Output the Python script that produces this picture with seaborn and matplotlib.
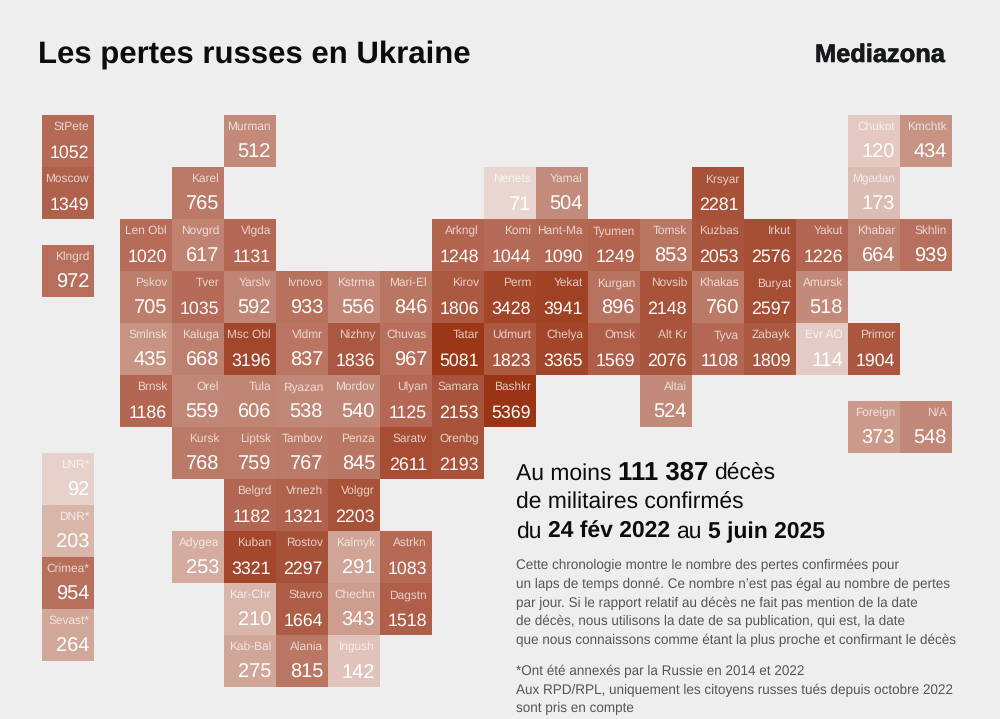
import numpy as np
import pandas as pd
import seaborn as sns
import matplotlib
matplotlib.use("Agg")
import matplotlib.pyplot as plt
import matplotlib.patheffects as pe
from matplotlib.colors import LinearSegmentedColormap, Normalize

regions = ["StPete", "Murman", "Chukot", "Kmchtk",
           "Moscow", "Karel", "Nenets", "Yamal", "Krsyar", "Mgadan",
           "Len Obl", "Novgrd", "Vlgda", "Arkngl", "Komi", "Hant-Ma", "Tyumen", "Tomsk", "Kuzbas", "Irkut", "Yakut", "Khabar", "Skhlin",
           "Klngrd",
           "Pskov", "Tver", "Yarslv", "Ivnovo", "Kstrma", "Mari-El", "Kirov", "Perm", "Yekat", "Kurgan", "Novsib", "Khakas", "Buryat", "Amursk",
           "Smlnsk", "Kaluga", "Msc Obl", "Vldmr", "Nizhny", "Chuvas", "Tatar", "Udmurt", "Chelya", "Omsk", "Alt Kr", "Tyva", "Zabayk", "Evr AO", "Primor",
           "Brnsk", "Orel", "Tula", "Ryazan", "Mordov", "Ulyan", "Samara", "Bashkr", "Altai",
           "Foreign", "N/A",
           "Kursk", "Liptsk", "Tambov", "Penza", "Saratv", "Orenbg",
           "LNR*",
           "Belgrd", "Vrnezh", "Volggr",
           "DNR*",
           "Adygea", "Kuban", "Rostov", "Kalmyk", "Astrkn",
           "Crimea*",
           "Kar-Chr", "Stavro", "Chechn", "Dagstn",
           "Sevast*",
           "Kab-Bal", "Alania", "Ingush"]
deaths = [1052, 512, 120, 434,
          1349, 765, 71, 504, 2281, 173,
          1020, 617, 1131, 1248, 1044, 1090, 1249, 853, 2053, 2576, 1226, 664, 939,
          972,
          705, 1035, 592, 933, 556, 846, 1806, 3428, 3941, 896, 2148, 760, 2597, 518,
          435, 668, 3196, 837, 1836, 967, 5081, 1823, 3365, 1569, 2076, 1108, 1809, 114, 1904,
          1186, 559, 606, 538, 540, 1125, 2153, 5369, 524,
          373, 548,
          768, 759, 767, 845, 2611, 2193,
          92,
          1182, 1321, 2203,
          203,
          253, 3321, 2297, 291, 1083,
          954,
          210, 1664, 343, 1518,
          264,
          275, 815, 142]
grid_col = [0, 7, 31, 33,
            0, 5, 17, 19, 25, 31,
            3, 5, 7, 15, 17, 19, 21, 23, 25, 27, 29, 31, 33,
            0,
            3, 5, 7, 9, 11, 13, 15, 17, 19, 21, 23, 25, 27, 29,
            3, 5, 7, 9, 11, 13, 15, 17, 19, 21, 23, 25, 27, 29, 31,
            3, 5, 7, 9, 11, 13, 15, 17, 23,
            31, 33,
            5, 7, 9, 11, 13, 15,
            0,
            7, 9, 11,
            0,
            5, 7, 9, 11, 13,
            0,
            7, 9, 11, 13,
            0,
            7, 9, 11]
grid_row = [0] * 4 + [2] * 6 + [4] * 13 + [5] + [6] * 14 + [8] * 15 + [10] * 9 + [11] * 2 + \
           [12] * 6 + [13] + [14] * 3 + [15] + [16] * 5 + [17] + [18] * 4 + [19] + [20] * 3

title = "Les pertes russes en Ukraine"
brand = "Mediazona"
headline = [[("Au moins", False), ("111 387", True), ("décès", False)],
            [("de militaires confirmés", False)],
            [("du", False), ("24 fév 2022", True), ("au", False), ("5 juin 2025", True)]]
body = ["Cette chronologie montre le nombre des pertes confirmées pour",
        "un laps de temps donné. Ce nombre n’est pas égal au nombre de pertes",
        "par jour. Si le rapport relatif au décès ne fait pas mention de la date",
        "de décès, nous utilisons la date de sa publication, qui est, la date",
        "que nous connaissons comme étant la plus proche et confirmant le décès"]
notes = ["*Ont été annexés par la Russie en 2014 et 2022",
         "Aux RPD/RPL, uniquement les citoyens russes tués depuis octobre 2022",
         "sont pris en compte"]

BG = "#eeeeee"
W, H = 1000, 719
sns.set_theme(style="white")
plt.rcParams["font.family"] = ["Liberation Sans", "DejaVu Sans"]
plt.rcParams["text.hinting"] = "no_hinting"
plt.rcParams["text.hinting_factor"] = 8

anchors = [(0, "#ecdcd7"), (71, "#e9d5cf"), (114, "#e3c9c2"), (173, "#dcbcb2"), (264, "#d1a799"),
           (504, "#c38a7a"), (765, "#bb7a67"), (1052, "#b56a56"), (1349, "#b0614c"),
           (2200, "#a8523a"), (3196, "#a3472c"), (5400, "#9a3414")]
cmap = LinearSegmentedColormap.from_list("losses", [(v / 5400, c) for v, c in anchors], N=512)

n_rows, n_cols = 22, 35
cells = np.full((n_rows, n_cols), np.nan)
for v, c, r in zip(deaths, grid_col, grid_row):
    cells[r:r + 2, c:c + 2] = v
frame = pd.DataFrame(cells)

fig = plt.figure(figsize=(W / 100, H / 100), dpi=100, facecolor=BG)
ax = fig.add_axes([42 / W, 1 - 687 / H, 910 / W, 572 / H], facecolor=BG)
sns.heatmap(frame, ax=ax, cmap=cmap, norm=Normalize(0, 5400), cbar=False,
            xticklabels=False, yticklabels=False, linewidths=0, antialiased=False)

unit = 26.0
for name, v, c, r in zip(regions, deaths, grid_col, grid_row):
    right = c + 2 - 5 / unit
    ax.text(right, r + 15.2 / unit, name, ha="right", va="baseline", fontsize=8.6,
            color="white", alpha=0.72)
    ax.text(right, r + 42.7 / unit, str(v), ha="right", va="baseline",
            fontsize=12.8 if v >= 1000 else 14.4, color="white")


def put(x, y, s, **kw):
    return fig.text(x / W, 1 - y / H, s, va="baseline", **kw)


put(38, 63, title, fontsize=22.4, fontweight="bold", color="#0c0c0c")
put(815, 62, brand, fontsize=18.3, fontweight="bold", color="#16181c",
    path_effects=[pe.withStroke(linewidth=0.4, foreground="#16181c")])

renderer = fig.canvas.get_renderer()
size = 16.5
space = 0.278 * size * 100 / 72
for line, y in zip(headline, [480, 509, 538]):
    x = 516
    for s, bold in line:
        run_size = 18.5 if s == "111 387" else size
        t = put(x, y, s, fontsize=run_size, fontweight="bold" if bold else "normal", color="#0c0c0c")
        x += t.get_window_extent(renderer).width + space

for s, y in zip(body, [569, 588, 607, 625, 644]):
    put(516, y, s, fontsize=9.75, color="#555555")
for s, y in zip(notes, [675, 694, 712]):
    put(516, y, s, fontsize=9.75, color="#555555")

fig.savefig("out.png", dpi=100, facecolor=BG)
